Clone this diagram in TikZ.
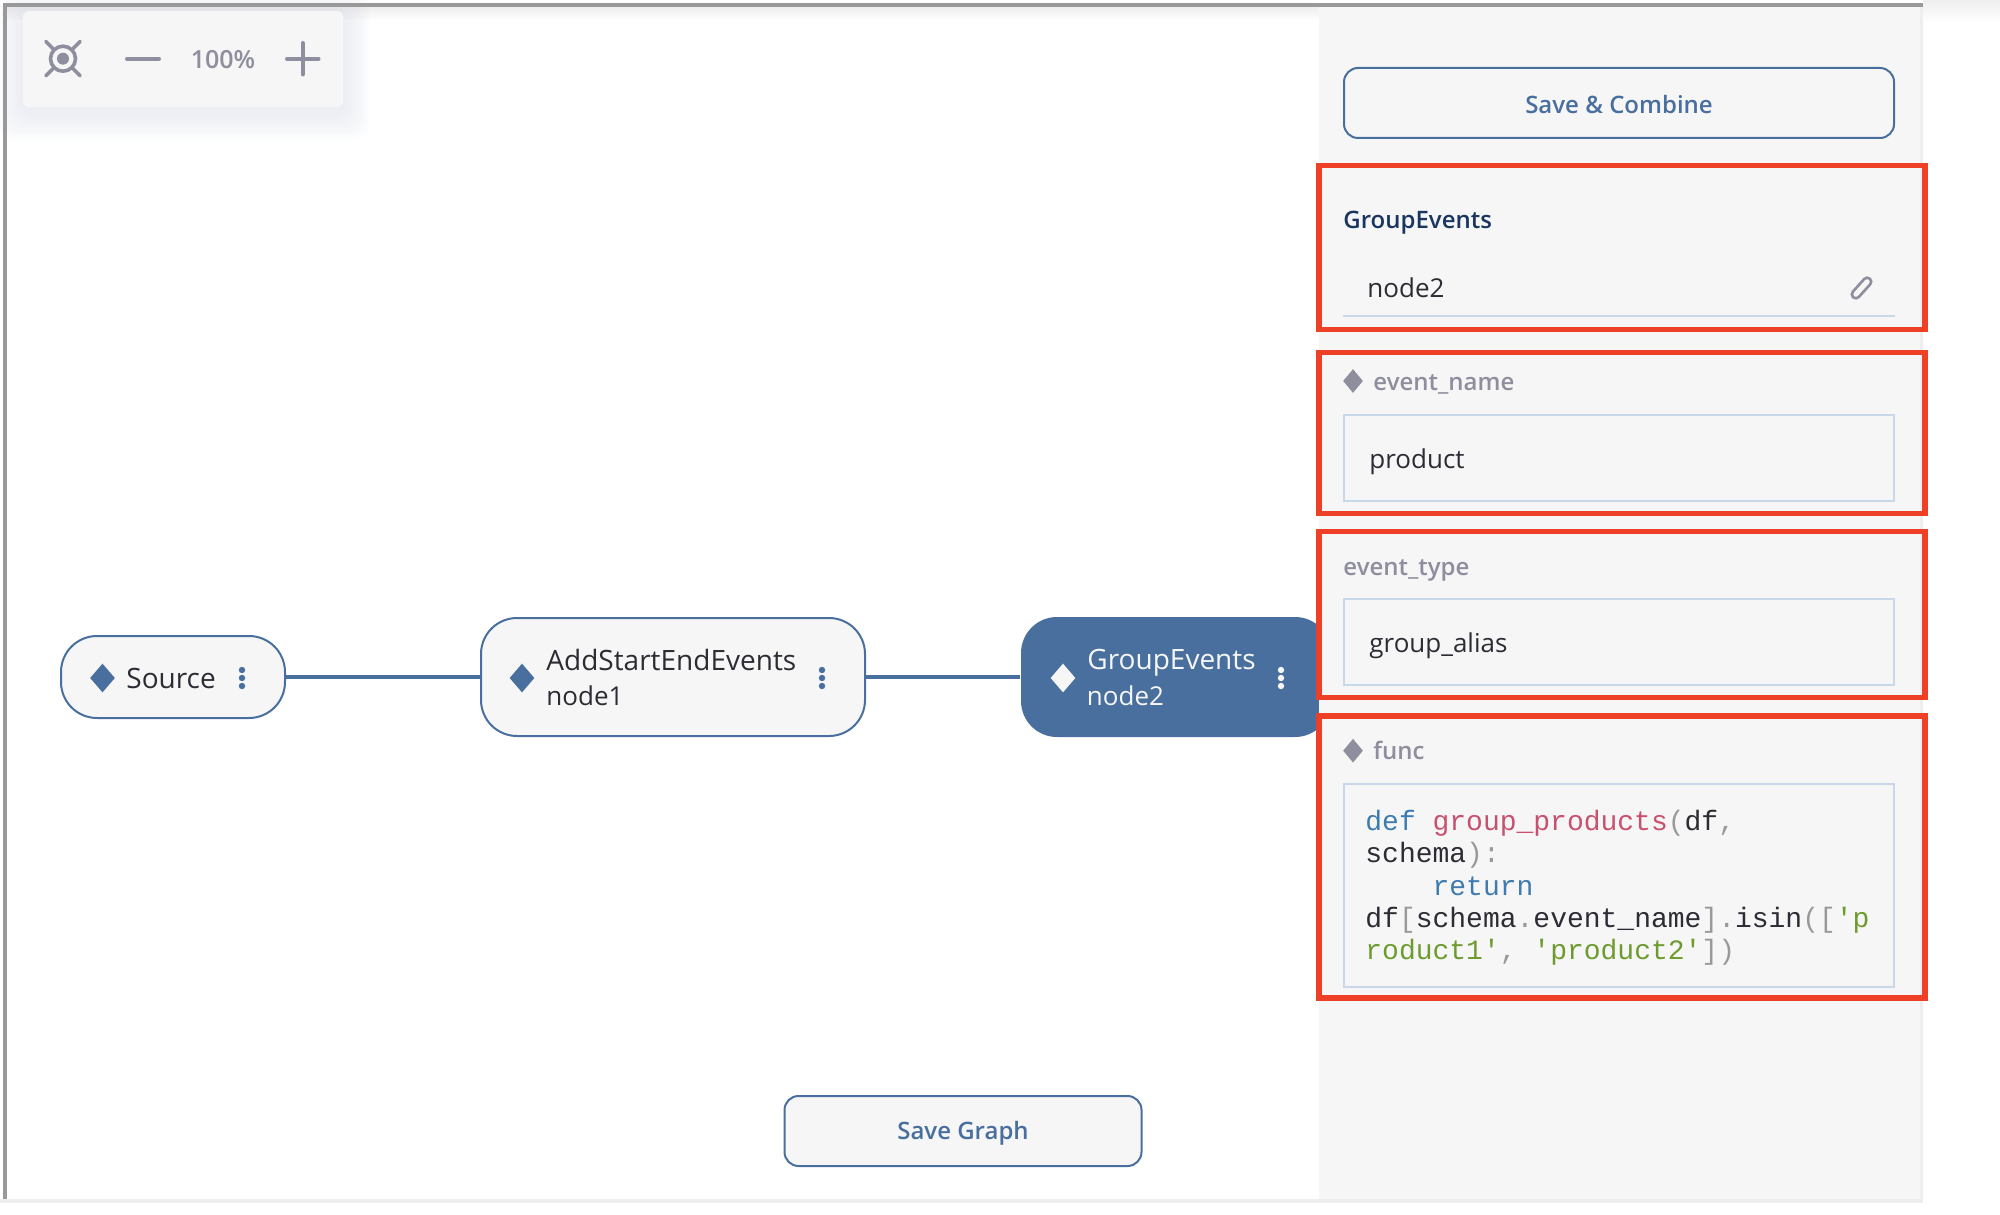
\documentclass[tikz,border=0pt]{standalone}
\usepackage{xcolor}
\usepackage{fontspec}
\setmainfont{Open Sans}
\newfontfamily\codefont{Liberation Mono}
\newfontfamily\semifont{Open Sans Semibold}
\usepackage{tikz}
\usetikzlibrary{shapes.geometric, positioning}
\definecolor{nodeColor}{RGB}{72,111,158}
\definecolor{panelColor}{RGB}{246,246,246}
\definecolor{bandColor}{RGB}{238,238,238}
\definecolor{frameColor}{RGB}{153,153,153}
\definecolor{markColor}{RGB}{142,142,158}
\definecolor{inputColor}{RGB}{200,216,232}
\definecolor{redColor}{RGB}{238,64,38}
\definecolor{navyColor}{RGB}{26,54,96}
\definecolor{inkColor}{RGB}{44,44,52}
\definecolor{shadowColor}{RGB}{205,210,225}
\definecolor{keyColor}{RGB}{62,123,176}
\definecolor{nameColor}{RGB}{201,80,110}
\definecolor{strColor}{RGB}{110,155,46}
\definecolor{punctColor}{RGB}{153,153,153}

\begin{document}
\begin{tikzpicture}[
    x=0.5pt, y=-0.5pt,
    pill/.style={rectangle, draw=nodeColor, line width=1pt, fill=panelColor, rounded corners=18pt, inner sep=0pt},
    button/.style={rectangle, draw=nodeColor, line width=1pt, fill=panelColor, rounded corners=7pt, inner sep=0pt, text=nodeColor, text height=9pt, text depth=1pt, font=\fontsize{12}{14}\semifont},
    inputbox/.style={rectangle, draw=inputColor, line width=1pt, minimum width=275pt, inner sep=0pt},
    redbox/.style={rectangle, draw=redColor, line width=2.6pt, minimum width=303pt, inner sep=0pt},
    nodetext/.style={anchor=base west, inner sep=0pt, text=inkColor, font=\fontsize{14}{16}\selectfont},
    nodesub/.style={nodetext, font=\fontsize{13}{16}\selectfont},
    fieldtext/.style={anchor=base west, inner sep=0pt, text=inkColor, font=\fontsize{13}{16}\selectfont},
    labeltext/.style={anchor=base west, inner sep=0pt, text=markColor, font=\fontsize{12}{14}\semifont},
    nodemark/.style={diamond, fill=nodeColor, inner sep=0pt, minimum width=12.5pt, minimum height=14.5pt},
    fieldmark/.style={diamond, fill=markColor, inner sep=0pt, minimum width=10pt, minimum height=12pt},
    menudot/.style={circle, inner sep=0pt, minimum size=3.2pt},
    tool/.style={draw=markColor, line width=2pt, line cap=round}
]
    \useasboundingbox (0,0) rectangle (2000,1214);

    % Canvas and side panel
    \shade[top color=bandColor, bottom color=white] (1923,0) rectangle (2000,22);
    \shade[top color=bandColor, bottom color=white] (7,7) rectangle (1319,20);
    \fill[bandColor] (0,1199) rectangle (1923,1203);

    % Graph nodes
    \node[pill, minimum width=112pt, minimum height=41pt] (source) at (173,677) {};
    \node[pill, minimum width=192pt, minimum height=59pt] (addevents) at (673,677) {};
    \node[pill, fill=nodeColor, draw=none, minimum width=155pt, minimum height=60pt] (groupevents) at (1176,677) {};
    \draw[nodeColor, line width=2pt] (source) -- (addevents);
    \draw[nodeColor, line width=2pt] (addevents) -- (groupevents);

    \node[nodemark] (sourcemark) at (102.5,678) {};
    \node[nodetext] (sourcetext) at (126,688) {Source};
    \node[nodemark] (addmark) at (522,678) {};
    \node[nodetext] (addtext) at (546,670) {AddStartEndEvents};
    \node[nodesub] (addname) at (546,705) {node1};
    \node[nodemark, fill=panelColor] (groupmark) at (1063,678) {};
    \node[nodetext, text=panelColor] (grouptext) at (1087,669.5) {GroupEvents};
    \node[nodesub, text=panelColor] (groupname) at (1086.5,705) {node2};
    \foreach \dx/\dc in {242/nodeColor, 822/nodeColor, 1281/panelColor}
        \foreach \dy in {670,678,686}
            \node[menudot, fill=\dc] (dot\dx-\dy) at (\dx,\dy) {};

    % Zoom toolbar
    \foreach \s in {3,6,...,27}
        \fill[shadowColor, opacity=0.05, rounded corners=8pt] ({23-\s},{17-\s}) rectangle ({343+\s},{113+\s});
    \node[rectangle, fill=panelColor, rounded corners=3pt, minimum width=160pt, minimum height=48pt] (toolbar) at (183,59) {};
    \node[circle, draw=markColor, line width=1.8pt, minimum size=12.5pt, inner sep=0pt] (zoomring) at (63,58.7) {};
    \node[circle, fill=markColor, minimum size=6pt, inner sep=0pt] (zoomdot) at (63,58.7) {};
    \foreach \a in {45,135,225,315}
        \draw[tool, line width=1.8pt] (zoomring.\a) -- ++(\a:5pt);
    \draw[tool] (127,58.7) -- (159,58.7);
    \node[anchor=base, inner sep=0pt, text=markColor, font=\fontsize{12.5}{14}\semifont] (zoomtext) at (223,69) {100\%};
    \draw[tool] (287,58.7) -- (318.5,58.7);
    \draw[tool] (302.7,43) -- (302.7,74.5);

    % Side panel
    \fill[panelColor] (1319,7) rectangle (1920,1199);
    \fill[bandColor] (1920,7) rectangle (1923,1203);
    \fill[frameColor] (3,3) rectangle (1923,7);
    \fill[frameColor] (3,3) rectangle (7,1199);
    \node[button, text height=11.5pt, minimum width=275pt, minimum height=35pt] (combine) at (1619,103) {Save \& Combine};

    % Name field
    \node[redbox, minimum height=82pt] (namebox) at (1622,247.5) {};
    \node[labeltext, text=navyColor] (nametitle) at (1343,228.5) {GroupEvents};
    \node[fieldtext] (namevalue) at (1367,297) {node2};
    \draw[rotate around={48:(1861.5,288)}, draw=markColor, line width=1.3pt, rounded corners=2pt] (1849,284) -- (1874,284) -- (1874,292) -- (1849,292) -- cycle;
    \draw[inputColor, line width=1pt] (1343,316) -- (1895,316);

    % Event name field
    \node[redbox, minimum height=80.5pt] (evnamebox) at (1622,432.7) {};
    \node[fieldmark] (evnamemark) at (1353,381) {};
    \node[labeltext] (evnamelabel) at (1373,390.5) {event\_name};
    \node[inputbox, minimum height=43pt] (evnameinput) at (1619,458) {};
    \node[fieldtext] (evnamevalue) at (1369,468) {product};

    % Event type field
    \node[redbox, minimum height=83pt] (evtypebox) at (1622,614.5) {};
    \node[labeltext] (evtypelabel) at (1343,575) {event\_type};
    \node[inputbox, minimum height=43pt] (evtypeinput) at (1619,642) {};
    \node[fieldtext] (evtypevalue) at (1369,652) {group\_alias};

    % Function field
    \node[redbox, minimum height=141pt] (funcbox) at (1622,857) {};
    \node[fieldmark] (funcmark) at (1353,750.7) {};
    \node[labeltext] (funclabel) at (1373,759) {func};
    \node[inputbox, minimum height=101.5pt] (funcinput) at (1619,885.5) {};
    \node[anchor=north west, inner sep=0pt, align=left, text=inkColor, font=\fontsize{14}{16.1}\codefont] (funccode) at (1365,810) {%
        \textcolor{keyColor}{def} \textcolor{nameColor}{group\_products}\textcolor{punctColor}{(}df\textcolor{punctColor}{,}\\
        schema\textcolor{punctColor}{):}\\
        \phantom{xxxx}\textcolor{keyColor}{return}\\
        df\textcolor{punctColor}{[}schema\textcolor{punctColor}{.}event\_name\textcolor{punctColor}{].}isin\textcolor{punctColor}{([}\textcolor{strColor}{'p}\\
        \textcolor{strColor}{roduct1'}\textcolor{punctColor}{,} \textcolor{strColor}{'product2'}\textcolor{punctColor}{])}};

    % Graph button
    \node[button, minimum width=178.5pt, minimum height=35pt] (savegraph) at (963,1131) {Save Graph};
\end{tikzpicture}
\end{document}
